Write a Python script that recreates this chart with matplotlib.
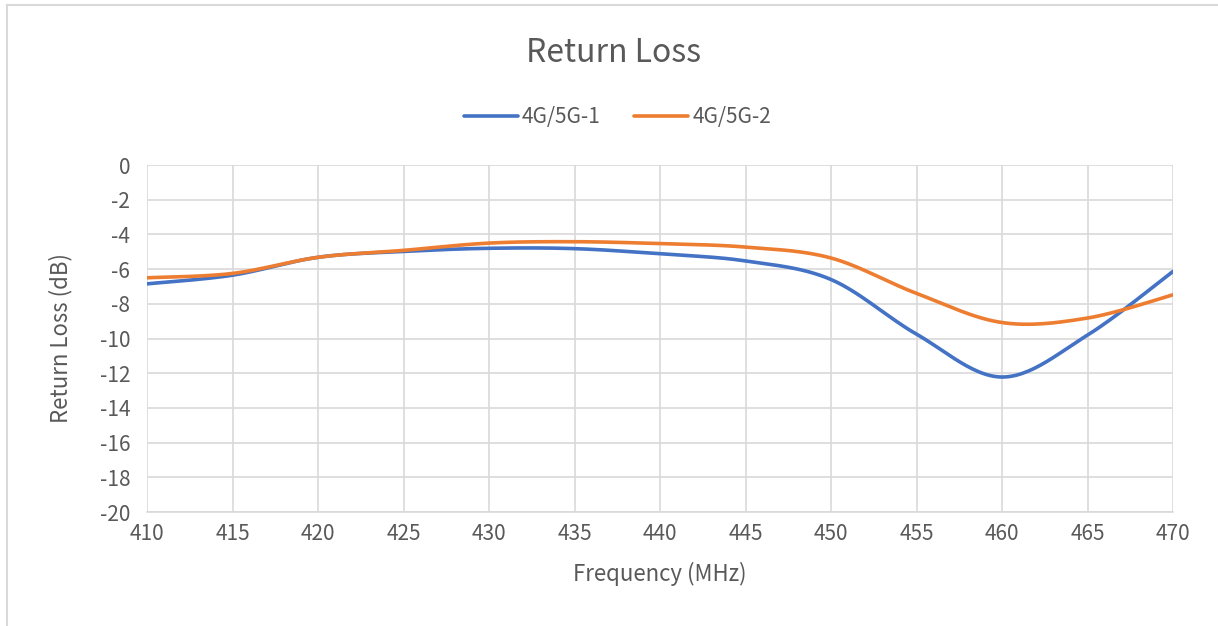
import matplotlib
matplotlib.use('Agg')
import matplotlib.pyplot as plt
import numpy as np

# data
freq = [410, 415, 420, 425, 430, 435, 440, 445, 450, 455, 460, 465, 470]
rl_1 = [-6.85, -6.35, -5.32, -4.98, -4.8, -4.82, -5.12, -5.53, -6.6, -9.75, -12.22, -9.8, -6.13]
rl_2 = [-6.5, -6.25, -5.32, -4.92, -4.5, -4.42, -4.53, -4.73, -5.36, -7.4, -9.08, -8.82, -7.48]
names = ['4G/5G-1', '4G/5G-2']
colors = ['#4472C4', '#ED7D31']

plt.rcParams['font.family'] = ['Noto Sans CJK SC', 'DejaVu Sans']
plt.rcParams['font.weight'] = 'light'
plt.rcParams['axes.unicode_minus'] = False
txt = '#595959'


def smooth(x, y, n=30):
    # excel-like smoothed line: cubic bezier through points
    x = np.asarray(x, float)
    y = np.asarray(y, float)
    px = np.concatenate([[x[0]], x, [x[-1]]])
    py = np.concatenate([[y[0]], y, [y[-1]]])
    xs, ys = [], []
    t = np.linspace(0, 1, n)
    for i in range(1, len(px) - 2):
        p0 = np.array([px[i], py[i]])
        p3 = np.array([px[i + 1], py[i + 1]])
        c1 = p0 + (np.array([px[i + 1], py[i + 1]]) - np.array([px[i - 1], py[i - 1]])) / 6
        c2 = p3 - (np.array([px[i + 2], py[i + 2]]) - np.array([px[i], py[i]])) / 6
        b = ((1 - t) ** 3)[:, None] * p0 + (3 * (1 - t) ** 2 * t)[:, None] * c1 \
            + (3 * (1 - t) * t ** 2)[:, None] * c2 + (t ** 3)[:, None] * p3
        xs.extend(b[:, 0])
        ys.extend(b[:, 1])
    return xs, ys


fig = plt.figure(figsize=(12.18, 6.26), dpi=100)
ax = fig.add_axes([0.1207, 0.1821, 0.9631 - 0.1207, 0.7364 - 0.1821])

for vals, name, c in zip([rl_1, rl_2], names, colors):
    sx, sy = smooth(freq, vals)
    ax.plot(sx, sy, color=c, lw=2.6, label=name, solid_capstyle='round')

ax.set_xlim(410, 470)
ax.set_ylim(-20, 0)
ax.set_xticks(np.arange(410, 471, 5))
ax.set_yticks(np.arange(-20, 1, 2))
ax.grid(True, color='#d9d9d9', lw=1.2)
ax.set_axisbelow(True)
for s in ax.spines.values():
    s.set_visible(False)
ax.spines['bottom'].set_visible(True)
ax.spines['bottom'].set_color('#d9d9d9')
ax.spines['bottom'].set_linewidth(1.2)
ax.tick_params(length=0, labelsize=15, labelcolor=txt, pad=8)
ax.tick_params(axis='y', pad=12)

ax.set_xlabel('Frequency (MHz)', fontsize=16, color=txt, labelpad=12)
ax.set_ylabel('Return Loss (dB)', fontsize=16, color=txt, labelpad=20)

fig.text(0.504, 0.916, 'Return Loss', ha='center', va='center', fontsize=23, color=txt)
fig.legend(loc='center', bbox_to_anchor=(0.507, 0.813), ncol=2, frameon=False,
           fontsize=15, labelcolor=txt, handlelength=2.6, handletextpad=0.2, columnspacing=1.6)

# chart area border
fig.add_artist(plt.Line2D([7 / 1218, 7 / 1218], [0, 1 - 5 / 626], transform=fig.transFigure, color='#d9d9d9', lw=1.5))
fig.add_artist(plt.Line2D([7 / 1218, 1], [1 - 5 / 626, 1 - 5 / 626], transform=fig.transFigure, color='#d9d9d9', lw=1.5))

fig.savefig('out.png', dpi=100)
